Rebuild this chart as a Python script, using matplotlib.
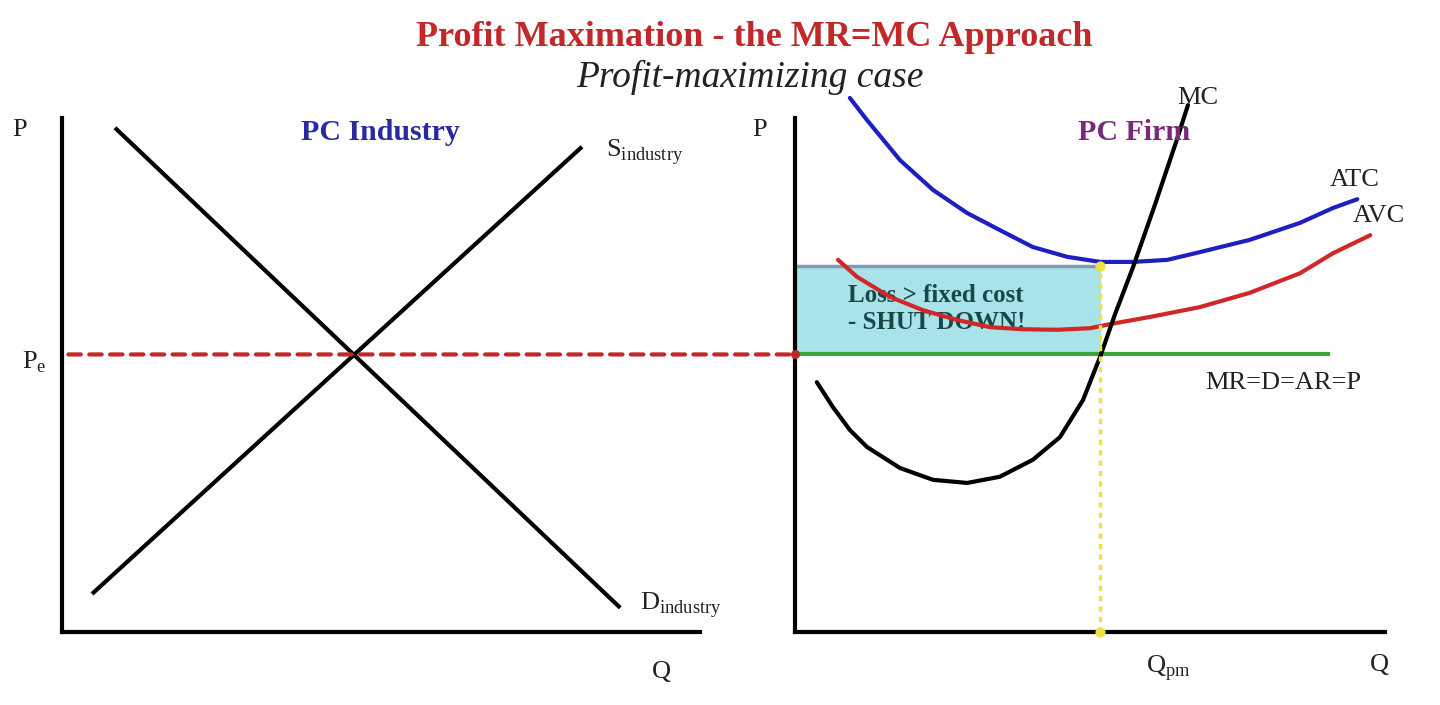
import matplotlib
matplotlib.use("Agg")
import matplotlib.pyplot as plt
from matplotlib.patches import ConnectionPatch

plt.rcParams['font.family'] = ['Liberation Serif', 'DejaVu Serif']
plt.rcParams['mathtext.fontset'] = 'custom'
plt.rcParams['mathtext.rm'] = 'Liberation Serif'

W, H = 1440, 705

# ---- data (Q, P) in abstract units, both panels 0..10 ----
demand_q = [0.83, 8.75]
demand_p = [9.81, 0.47]
supply_q = [0.47, 8.15]
supply_p = [0.74, 9.44]
p_e = 5.4

atc_q = [0.93, 1.22, 1.78, 2.34, 2.92, 3.47, 4.03, 4.61, 5.17, 5.73, 6.31,
         6.86, 7.71, 8.56, 9.12, 9.53]
atc_p = [10.39, 9.96, 9.18, 8.60, 8.15, 7.82, 7.49, 7.30, 7.20, 7.20, 7.24,
         7.39, 7.63, 7.96, 8.25, 8.42]
avc_q = [0.73, 1.05, 1.61, 2.17, 2.75, 3.31, 3.86, 4.44, 5.00, 5.34, 6.02,
         6.86, 7.71, 8.56, 9.12, 9.75]
avc_p = [7.24, 6.91, 6.52, 6.26, 6.07, 5.93, 5.89, 5.88, 5.91, 5.99, 6.13,
         6.32, 6.60, 6.98, 7.37, 7.72]
mc_q = [0.37, 0.64, 0.93, 1.22, 1.78, 2.34, 2.92, 3.47, 4.03, 4.49, 4.88,
        5.17, 5.42, 5.73, 6.10, 6.47, 6.66]
mc_p = [4.86, 4.38, 3.93, 3.60, 3.19, 2.96, 2.90, 3.02, 3.35, 3.79, 4.51,
        5.35, 6.17, 7.10, 8.31, 9.57, 10.25]
mr_q_end = 9.03
q_firm = 5.17
atc_at_q = 7.12

RED = '#c0282a'


def px(x, y):
    return x / W, 1 - y / H


fig = plt.figure(figsize=(14.4, 7.05), dpi=100)

ax1 = fig.add_axes([62 / W, 73 / H, 638 / W, 514 / H])
ax2 = fig.add_axes([795 / W, 73 / H, 590 / W, 514 / H])
for ax in (ax1, ax2):
    ax.set_xlim(0, 10)
    ax.set_ylim(0, 10)
    ax.set_xticks([])
    ax.set_yticks([])
    ax.spines['top'].set_visible(False)
    ax.spines['right'].set_visible(False)
    ax.spines['left'].set_linewidth(3)
    ax.spines['bottom'].set_linewidth(3)
    ax.patch.set_alpha(0)

# left panel: industry
ax1.plot(demand_q, demand_p, color='black', lw=3, solid_capstyle='butt')
ax1.plot(supply_q, supply_p, color='black', lw=3, solid_capstyle='butt')

# right panel: firm
curve = dict(lw=3, solid_joinstyle='round', solid_capstyle='round', zorder=4)
ax2.fill_between([0, q_firm], p_e, atc_at_q, color='#a9e2e8', zorder=1)
ax2.plot([0, q_firm], [atc_at_q, atc_at_q], color='#7f9cb4', lw=2.5, zorder=2)
ax2.plot([0, mr_q_end], [p_e, p_e], color='#3aa63a', lw=3, zorder=3)
ax2.plot(atc_q, atc_p, color='#1f1fbf', clip_on=False, **curve)
ax2.plot(avc_q, avc_p, color='#d02828', **curve)
ax2.plot(mc_q, mc_p, color='black', clip_on=False, **curve)
ax2.plot([q_firm, q_firm], [0, atc_at_q + 0.1], color='#f0e040', lw=2.5,
         ls=(0, (1.5, 1.5)), zorder=5)
ax2.scatter([q_firm, q_firm], [0, atc_at_q], color='#f0e040', s=40, zorder=6,
            clip_on=False)

# Pe dashed line across both panels
con = ConnectionPatch(xyA=(0.1, p_e), coordsA=ax1.transData,
                      xyB=(0, p_e), coordsB=ax2.transData,
                      color=RED, lw=3, ls=(0, (3, 2)))
fig.add_artist(con)
ax2.scatter([0], [p_e], color=RED, s=30, zorder=7, clip_on=False)

ax2.text(0.9, 6.28, 'Loss > fixed cost\n- SHUT DOWN!', fontsize=18,
         fontweight='bold', color='#174848', linespacing=1.2, va='center', zorder=3)

# titles
fig.text(*px(754, 37), 'Profit Maximation - the MR=MC Approach', color=RED,
         fontsize=26, fontweight='bold', ha='center', va='center')
fig.text(*px(750, 77), 'Profit-maximizing case', color='#222222',
         fontsize=27, style='italic', ha='center', va='center')

# labels
lab = dict(fontsize=19, color='#222222', va='center')
fig.text(*px(12, 130), 'P', **lab)
fig.text(*px(22, 362), r'P$_{\mathregular{e}}$', **lab)
fig.text(*px(652, 672), 'Q', **lab)
fig.text(*px(606, 152), r'S$_{\mathregular{industry}}$', **lab)
fig.text(*px(640, 605), r'D$_{\mathregular{industry}}$', **lab)
fig.text(*px(380, 132), 'PC Industry', fontsize=21.5, fontweight='bold',
         color='#2a2aa0', ha='center', va='center')

fig.text(*px(752, 130), 'P', **lab)
fig.text(*px(1134, 132), 'PC Firm', fontsize=21.5, fontweight='bold',
         color='#7a287a', ha='center', va='center')
fig.text(*px(1177, 98), 'MC', **lab)
fig.text(*px(1330, 180), 'ATC', **lab)
fig.text(*px(1353, 216), 'AVC', **lab)
fig.text(*px(1205, 383), 'MR=D=AR=P', **lab)
fig.text(*px(1146, 668), r'Q$_{\mathregular{pm}}$', **lab)
fig.text(*px(1370, 665), 'Q', **lab)

fig.savefig('out.png', dpi=100)
